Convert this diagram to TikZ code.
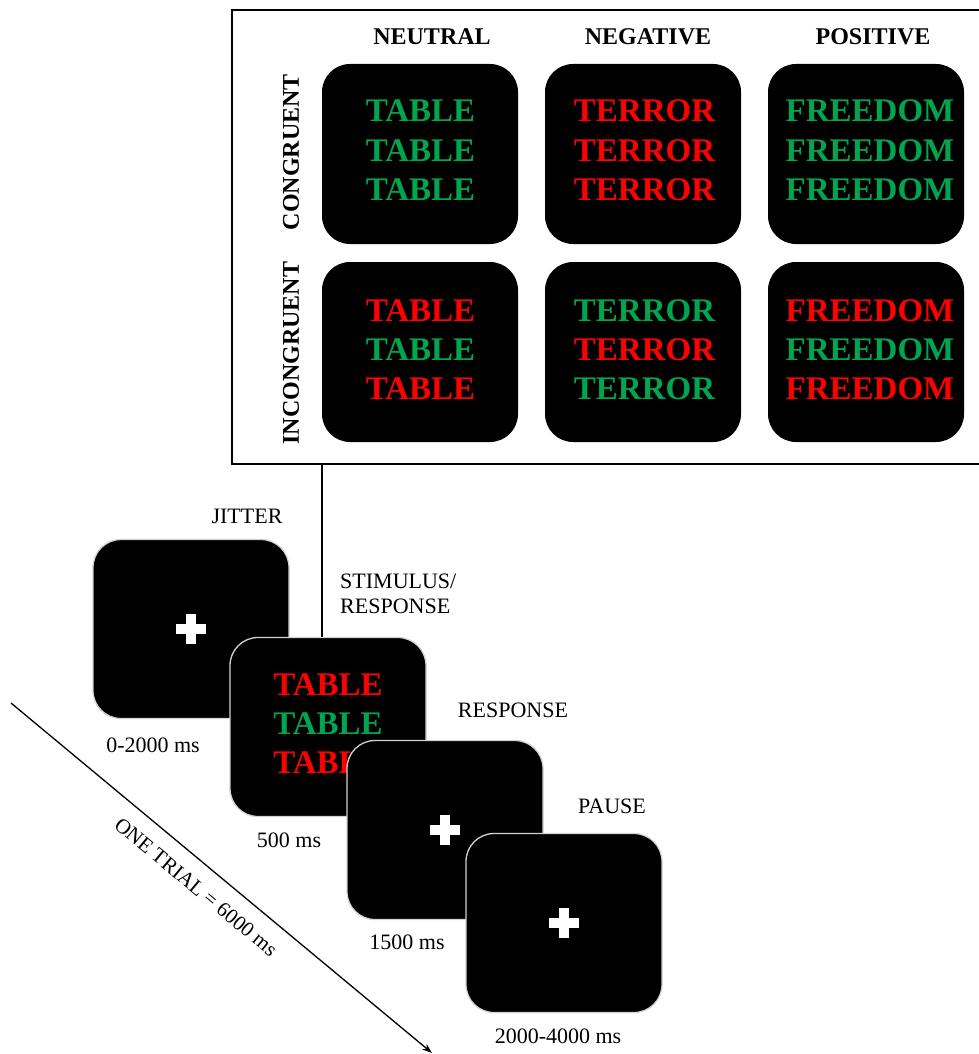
\documentclass[tikz,border=0pt]{standalone}
\usepackage{fontspec}
\setmainfont{Liberation Serif}
\usetikzlibrary{arrows.meta}
\definecolor{wred}{RGB}{255,0,0}
\definecolor{wgreen}{RGB}{0,165,80}
\begin{document}
\begin{tikzpicture}[x=1pt,y=-1pt,
  cell/.style={fill=black, rounded corners=28pt, minimum width=196pt, minimum height=180pt, inner sep=0pt},
  screen/.style={fill=black, draw=gray!35, line width=1.3pt, rounded corners=28pt, minimum width=196pt, minimum height=179pt, inner sep=0pt},
  word/.style={font=\fontsize{33}{36}\selectfont\bfseries, inner sep=0pt},
  head/.style={font=\fontsize{24}{28}\selectfont\bfseries, inner sep=0pt},
  lab/.style={font=\fontsize{22}{25}\selectfont, inner sep=0pt},
  pics/fixcross/.style={code={
    \fill[white] (-15,-5) rectangle (15,5);
    \fill[white] (-5,-15) rectangle (5,15);}}
]
\useasboundingbox (0,0) rectangle (978,1054);

% top frame (open at right edge)
\draw[line width=1.5pt] (982,10) -- (232,10) -- (232,464) -- (982,464);

% headers
\node[head] (hneu) at (432,37) {NEUTRAL};
\node[head] (hneg) at (648,37) {NEGATIVE};
\node[head] (hpos) at (873,37) {POSITIVE};
\node[head, rotate=90] (hcon) at (291,152) {CONGRUENT};
\node[head, rotate=90] (hinc) at (291,353) {INCONGRUENT};

% grid cells
\node[cell] (c11) at (420,154) {};
\node[cell] (c12) at (643,154) {};
\node[cell] (c13) at (866,154) {};
\node[cell] (c21) at (420,352) {};
\node[cell] (c22) at (643,352) {};
\node[cell] (c23) at (866,352) {};

% row 1 words
\node[word, text=wgreen] (w111) at (420.5,111) {TABLE};
\node[word, text=wgreen] (w112) at (420.5,151) {TABLE};
\node[word, text=wgreen] (w113) at (420.5,190) {TABLE};
\node[word, text=wred] (w121) at (644.5,111) {TERROR};
\node[word, text=wred] (w122) at (644.5,151) {TERROR};
\node[word, text=wred] (w123) at (644.5,190) {TERROR};
\node[word, text=wgreen] (w131) at (870,111) {FREEDOM};
\node[word, text=wgreen] (w132) at (870,151) {FREEDOM};
\node[word, text=wgreen] (w133) at (870,190) {FREEDOM};
% row 2 words
\node[word, text=wred] (w211) at (420.5,311) {TABLE};
\node[word, text=wgreen] (w212) at (420.5,350) {TABLE};
\node[word, text=wred] (w213) at (420.5,389) {TABLE};
\node[word, text=wgreen] (w221) at (644.5,311) {TERROR};
\node[word, text=wred] (w222) at (644.5,350) {TERROR};
\node[word, text=wgreen] (w223) at (644.5,389) {TERROR};
\node[word, text=wred] (w231) at (870,311) {FREEDOM};
\node[word, text=wgreen] (w232) at (870,350) {FREEDOM};
\node[word, text=wred] (w233) at (870,389) {FREEDOM};

% trial sequence
\coordinate (frameb) at (322,464);

\node[lab] (ljit) at (247,516) {JITTER};
\node[screen] (b1) at (191,629) {};
\pic at (b1.center) {fixcross};
\node[lab] (l1) at (153,745) {0-2000 ms};

\node[lab, align=left, anchor=west] (lstim) at (340,594) {STIMULUS/\\RESPONSE};
\node[screen] (b2) at (328,727) {};
\node[word, text=wred] (s1) at (328,685) {TABLE};
\node[word, text=wgreen] (s2) at (328,724) {TABLE};
\node[word, text=wred] (s3) at (328,763) {TABLE};
\node[lab] (l2) at (289,840) {500 ms};
\draw[line width=1.3pt] (frameb) -- (b2.north -| frameb);

\node[lab] (lresp) at (513,710) {RESPONSE};
\node[screen] (b3) at (445,830) {};
\pic at (b3.center) {fixcross};
\node[lab] (l3) at (407,942) {1500 ms};

\node[lab] (lpause) at (612,806) {PAUSE};
\node[screen] (b4) at (564,923) {};
\pic at (b4.center) {fixcross};
\node[lab] (l4) at (558,1036) {2000-4000 ms};

% timeline arrow
\coordinate (tstart) at (11,703);
\coordinate (tend) at (432,1053);
\draw[line width=1.3pt, -{Stealth[length=10pt,width=7pt]}] (tstart) -- (tend);
\node[lab, rotate=-39.7, font=\fontsize{21}{24}\selectfont] (ltrial) at (196,887) {ONE TRIAL = 6000 ms};
\end{tikzpicture}
\end{document}
